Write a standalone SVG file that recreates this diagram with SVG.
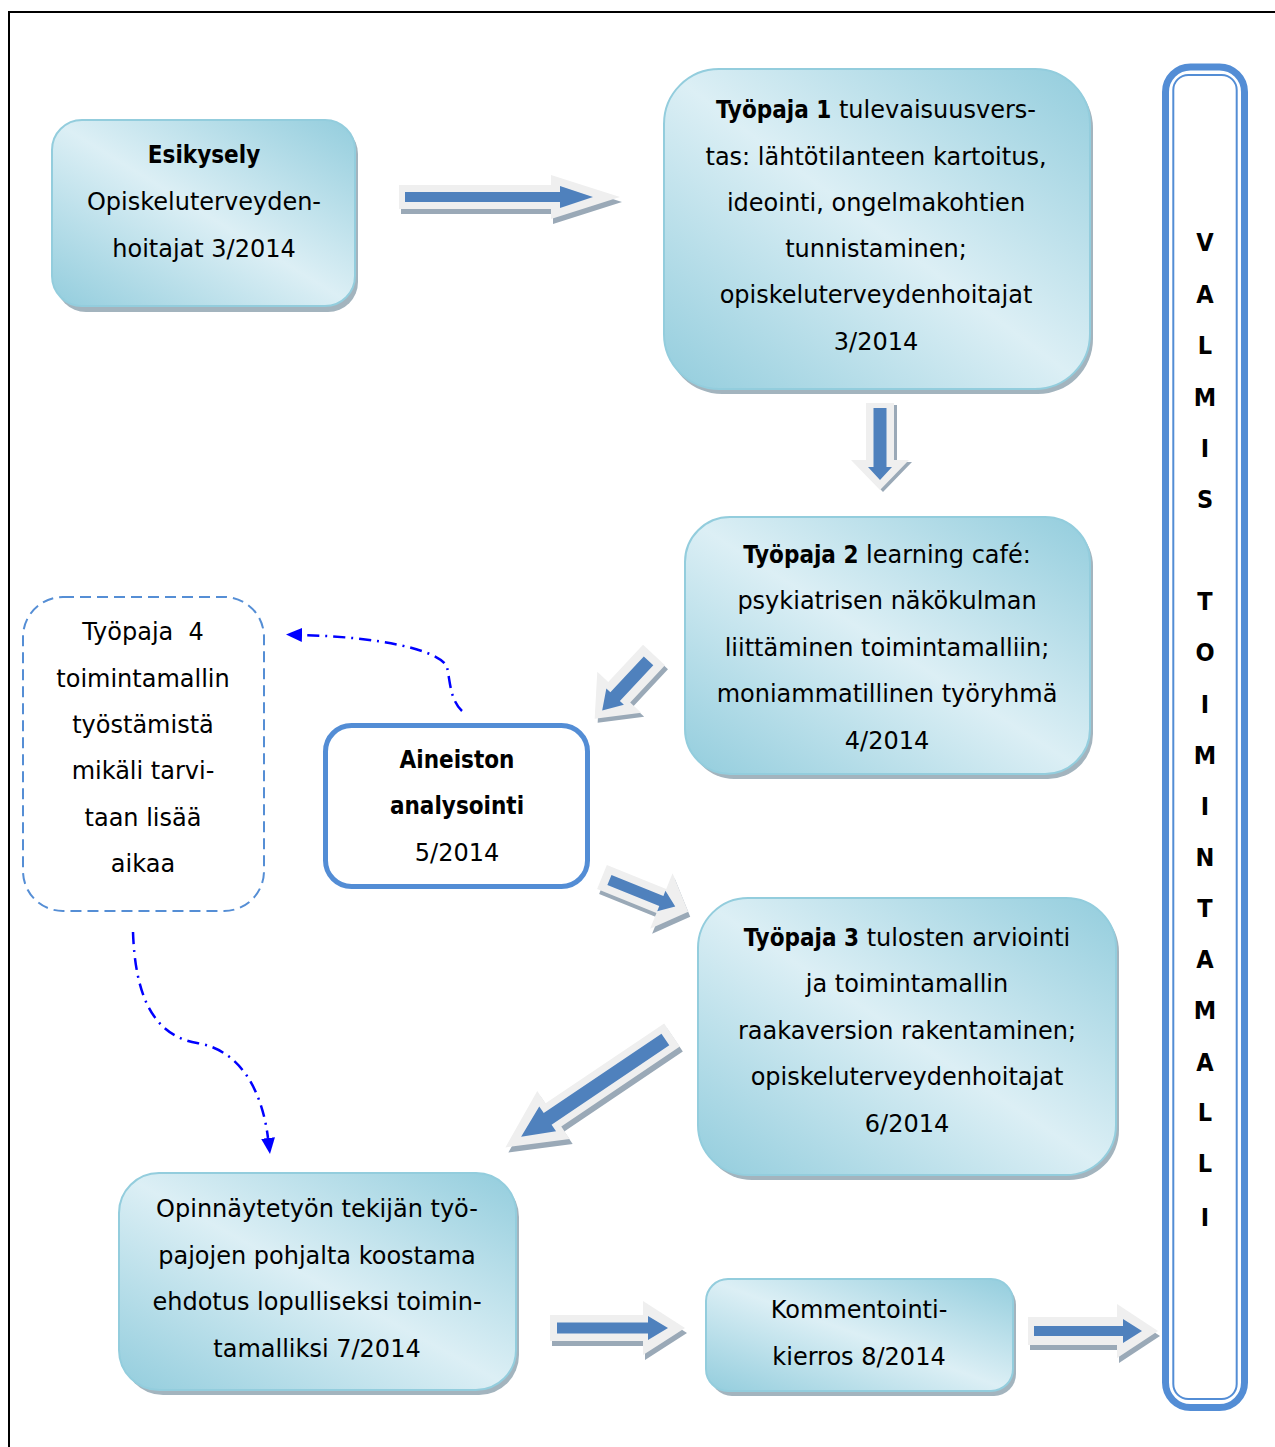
<svg xmlns="http://www.w3.org/2000/svg" width="1275" height="1447" viewBox="0 0 1275 1447">
<style>
text{font-family:"DejaVu Sans","Liberation Sans",sans-serif;font-size:24px;fill:#000;text-anchor:middle}
.b{font-family:"DejaVu Sans Condensed","DejaVu Sans",sans-serif;font-weight:bold}
.vl{font-family:"DejaVu Sans Condensed","DejaVu Sans",sans-serif;font-weight:bold;font-size:25px}
.box{fill:url(#g);stroke:#93cddd;stroke-width:2}
.sh{fill:#a3b4be}
.ash{fill:#9aa9b7}
.aout{fill:#efefef}
.ain{fill:#4f81bd}
.dd{fill:none;stroke:#0000ff;stroke-width:2.5;stroke-dasharray:12 6 2 6;marker-end:url(#ah)}
</style>
<defs>
<linearGradient id="g" x1="1" y1="0" x2="0" y2="1">
<stop offset="0" stop-color="#93cddd"/>
<stop offset="0.5" stop-color="#dceff5"/>
<stop offset="1" stop-color="#93cddd"/>
</linearGradient>
<marker id="ah" markerUnits="userSpaceOnUse" viewBox="0 0 16 14" markerWidth="16" markerHeight="14" refX="0" refY="7" orient="auto">
<path d="M0,0 L16,7 L0,14 z" fill="#0000ff"/>
</marker>
</defs>
<rect width="1275" height="1447" fill="#fff"/>
<path d="M9,1447 V12 H1275" fill="none" stroke="#000" stroke-width="2"/>

<g id="connectors">
<!-- A1 -->
<g transform="translate(2,5)"><polygon class="ash" transform="translate(399,197)" points="0,-12 152,-12 152,-22 221,0 152,22 152,12 0,12"/></g>
<polygon class="aout" transform="translate(399,197)" points="0,-12 152,-12 152,-22 221,0 152,22 152,12 0,12"/>
<polygon class="ain" transform="translate(399,197)" points="6,-5 161,-5 161,-11 194,0 161,11 161,5 6,5"/>
<!-- A2 down -->
<g transform="translate(3,2)"><polygon class="ash" transform="translate(880,403) rotate(90)" points="0,-14 57,-14 57,-29 87,0 57,29 57,14 0,14"/></g>
<polygon class="aout" transform="translate(880,403) rotate(90)" points="0,-14 57,-14 57,-29 87,0 57,29 57,14 0,14"/>
<polygon class="ain" transform="translate(880,403) rotate(90)" points="5,-6.5 64,-6.5 64,-12 77,0 64,12 64,6.5 5,6.5"/>
<!-- A3 upper SW -->
<g transform="translate(3,4)"><polygon class="ash" transform="translate(654,655) rotate(133)" points="0,-15 51,-15 51,-30 87,0 51,30 51,15 0,15"/></g>
<polygon class="aout" transform="translate(654,655) rotate(133)" points="0,-15 51,-15 51,-30 87,0 51,30 51,15 0,15"/>
<polygon class="ain" transform="translate(654,655) rotate(133)" points="8,-6.5 57,-6.5 57,-12 76,0 57,12 57,6.5 8,6.5"/>
<!-- A4 middle SE -->
<g transform="translate(2,5)"><polygon class="ash" transform="translate(602,877) rotate(22)" points="0,-13 64,-13 64,-30 93,0 64,30 64,13 0,13"/></g>
<polygon class="aout" transform="translate(602,877) rotate(22)" points="0,-13 64,-13 64,-30 93,0 64,30 64,13 0,13"/>
<polygon class="ain" transform="translate(602,877) rotate(22)" points="8,-5.5 64,-5.5 64,-11 79,0 64,11 64,5.5 8,5.5"/>
<!-- A5 big SW -->
<g transform="translate(3,5)"><polygon class="ash" transform="translate(672,1035) rotate(146)" points="0,-14 143,-14 143,-29 201,0 143,29 143,14 0,14"/></g>
<polygon class="aout" transform="translate(672,1035) rotate(146)" points="0,-14 143,-14 143,-29 201,0 143,29 143,14 0,14"/>
<polygon class="ain" transform="translate(672,1035) rotate(146)" points="8,-7 150,-7 150,-15 182,0 150,15 150,7 8,7"/>
<!-- A6 bottom -->
<g transform="translate(2,5)"><polygon class="ash" transform="translate(550,1328)" points="0,-13 93,-13 93,-27 135,0 93,27 93,13 0,13"/></g>
<polygon class="aout" transform="translate(550,1328)" points="0,-13 93,-13 93,-27 135,0 93,27 93,13 0,13"/>
<polygon class="ain" transform="translate(550,1328)" points="7,-5.5 98,-5.5 98,-12 118,0 98,12 98,5.5 7,5.5"/>
<!-- A7 bottom right -->
<g transform="translate(2,5)"><polygon class="ash" transform="translate(1028,1331)" points="0,-14 89,-14 89,-27 130,0 89,27 89,14 0,14"/></g>
<polygon class="aout" transform="translate(1028,1331)" points="0,-14 89,-14 89,-27 130,0 89,27 89,14 0,14"/>
<polygon class="ain" transform="translate(1028,1331)" points="6,-5 95,-5 95,-12 114,0 95,12 95,5 6,5"/>
<!-- dash-dot connectors -->
<path class="dd" d="M462,711 C450,700 450,680 447,667 C440,650 380,637 302,635"/>
<path class="dd" d="M133,932 C135,990 150,1035 197,1043 C240,1050 262,1090 268,1138"/>
</g>

<g id="esikysely">
<rect class="sh" x="56" y="124" width="302" height="188" rx="30"/>
<rect class="box" x="52" y="120" width="303" height="186" rx="30"/>
<text x="204" y="163" class="b">Esikysely</text>
<text x="204" y="210">Opiskeluterveyden-</text>
<text x="204" y="257">hoitajat 3/2014</text>
</g>

<g id="tyopaja1">
<rect class="sh" x="667" y="73" width="426" height="321" rx="55"/>
<rect class="box" x="664" y="69" width="426" height="320" rx="55"/>
<text x="876" y="118"><tspan class="b">Työpaja 1</tspan> tulevaisuusvers-</text>
<text x="876" y="165">tas: lähtötilanteen kartoitus,</text>
<text x="876" y="211">ideointi, ongelmakohtien</text>
<text x="876" y="257">tunnistaminen;</text>
<text x="876" y="303">opiskeluterveydenhoitajat</text>
<text x="876" y="350">3/2014</text>
</g>

<g id="tyopaja2">
<rect class="sh" x="689" y="521" width="404" height="258" rx="45"/>
<rect class="box" x="685" y="517" width="405" height="257" rx="45"/>
<text x="887" y="563"><tspan class="b">Työpaja 2</tspan> learning café:</text>
<text x="887" y="609">psykiatrisen näkökulman</text>
<text x="887" y="656">liittäminen toimintamalliin;</text>
<text x="887" y="702">moniammatillinen työryhmä</text>
<text x="887" y="749">4/2014</text>
</g>

<g id="aineiston">
<rect x="325.5" y="725.5" width="262" height="161" rx="26" fill="#fff" stroke="#538dd5" stroke-width="5"/>
<text x="457" y="768" class="b">Aineiston</text>
<text x="457" y="814" class="b">analysointi</text>
<text x="457" y="861">5/2014</text>
</g>

<g id="tyopaja4">
<rect x="23" y="597" width="241" height="314" rx="40" fill="#fff" stroke="#558ed5" stroke-width="2" stroke-dasharray="11 6"/>
<text x="143" y="640" style="white-space:pre">Työpaja  4</text>
<text x="143" y="687">toimintamallin</text>
<text x="143" y="733">työstämistä</text>
<text x="143" y="779">mikäli tarvi-</text>
<text x="143" y="826">taan lisää</text>
<text x="143" y="872">aikaa</text>
</g>

<g id="tyopaja3">
<rect class="sh" x="702" y="902" width="417" height="278" rx="50"/>
<rect class="box" x="698" y="898" width="418" height="277" rx="50"/>
<text x="907" y="946"><tspan class="b">Työpaja 3</tspan> tulosten arviointi</text>
<text x="907" y="992">ja toimintamallin</text>
<text x="907" y="1039">raakaversion rakentaminen;</text>
<text x="907" y="1085">opiskeluterveydenhoitajat</text>
<text x="907" y="1132">6/2014</text>
</g>

<g id="ehdotus">
<rect class="sh" x="123" y="1177" width="396" height="218" rx="40"/>
<rect class="box" x="119" y="1173" width="397" height="217" rx="40"/>
<text x="317" y="1217">Opinnäytetyön tekijän työ-</text>
<text x="317" y="1264">pajojen pohjalta koostama</text>
<text x="317" y="1310">ehdotus lopulliseksi toimin-</text>
<text x="317" y="1357">tamalliksi 7/2014</text>
</g>

<g id="kommentointi">
<rect class="sh" x="710" y="1283" width="306" height="113" rx="22"/>
<rect class="box" x="706" y="1279" width="307" height="112" rx="22"/>
<text x="859" y="1318">Kommentointi-</text>
<text x="859" y="1365">kierros 8/2014</text>
</g>

<g id="valmis">
<rect x="1165.5" y="67" width="79" height="1340.5" rx="25" fill="#fff" stroke="#538dd5" stroke-width="7"/>
<rect x="1173.3" y="75" width="63.4" height="1324" rx="15" fill="none" stroke="#538dd5" stroke-width="2"/>
<text class="vl" x="1205" y="251">V</text>
<text class="vl" x="1205" y="303">A</text>
<text class="vl" x="1205" y="354">L</text>
<text class="vl" x="1205" y="406">M</text>
<text class="vl" x="1205" y="457">I</text>
<text class="vl" x="1205" y="508">S</text>
<text class="vl" x="1205" y="610">T</text>
<text class="vl" x="1205" y="661">O</text>
<text class="vl" x="1205" y="713">I</text>
<text class="vl" x="1205" y="764">M</text>
<text class="vl" x="1205" y="815">I</text>
<text class="vl" x="1205" y="866">N</text>
<text class="vl" x="1205" y="917">T</text>
<text class="vl" x="1205" y="968">A</text>
<text class="vl" x="1205" y="1019">M</text>
<text class="vl" x="1205" y="1071">A</text>
<text class="vl" x="1205" y="1121">L</text>
<text class="vl" x="1205" y="1172">L</text>
<text class="vl" x="1205" y="1226">I</text>
</g>
</svg>
